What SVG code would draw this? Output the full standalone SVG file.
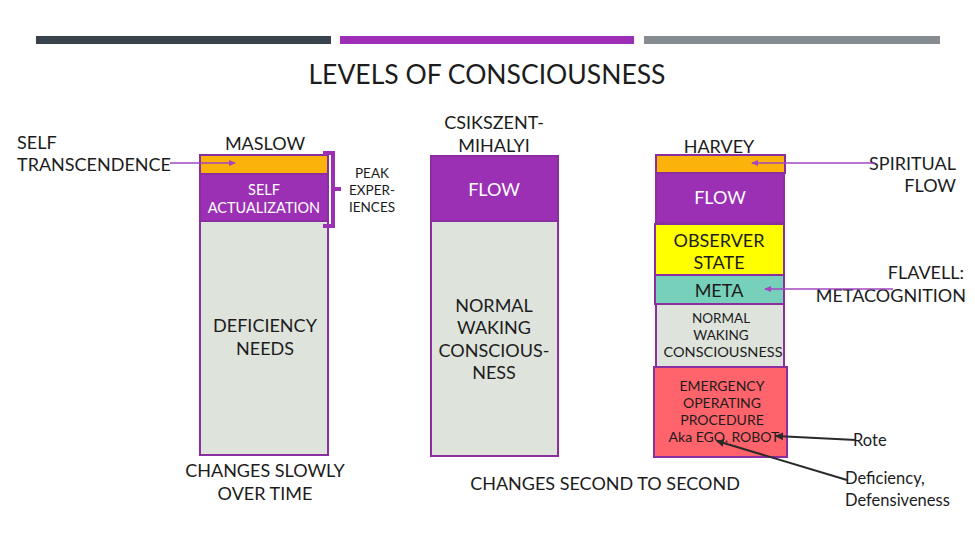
<svg xmlns="http://www.w3.org/2000/svg" width="975" height="549" viewBox="0 0 975 549">
<defs>
<style>
text{font-family:Lato,"Open Sans","Liberation Sans",sans-serif;fill:#1c1c1c;}
.c{text-anchor:middle;}
.r{text-anchor:end;}
.w{fill:#ffffff;}
.lab{font-size:18px;}
.box{stroke:#8a2ea0;stroke-width:2;}
.pl{stroke:#a246bf;stroke-width:1.5;fill:none;}
.bl{stroke:#2a2a2a;stroke-width:2;fill:none;}
</style>
<marker id="ap" markerWidth="8" markerHeight="8" refX="6" refY="4" orient="auto" markerUnits="userSpaceOnUse"><path d="M0,1 L7,4 L0,7 Z" fill="#a246bf"/></marker>
<marker id="ab" markerWidth="10" markerHeight="10" refX="7" refY="5" orient="auto" markerUnits="userSpaceOnUse"><path d="M0,1 L8,5 L0,9 Z" fill="#2a2a2a"/></marker>
</defs>
<rect width="975" height="549" fill="#ffffff"/>
<g id="header">
<rect x="36" y="36" width="295" height="8" fill="#37424a"/>
<rect x="340" y="36" width="294" height="8" fill="#9c2fb5"/>
<rect x="644" y="36" width="296" height="8" fill="#848b91"/>
<text x="487" y="84" class="c" font-size="26" textLength="357" lengthAdjust="spacingAndGlyphs">LEVELS OF CONSCIOUSNESS</text>
</g>
<g id="maslow">
<text x="265" y="150" class="c lab">MASLOW</text>
<rect x="200" y="155" width="128" height="19" fill="#fbb20a" class="box"/>
<rect x="200" y="174" width="128" height="47" fill="#9b30b5" class="box"/>
<text x="264" y="195" class="c w" font-size="14.5">SELF</text>
<text x="264" y="213" class="c w" font-size="14.5">ACTUALIZATION</text>
<rect x="200" y="221" width="128" height="234" fill="#dee3dc" class="box"/>
<text x="265" y="332" class="c lab">DEFICIENCY</text>
<text x="265" y="355" class="c lab">NEEDS</text>
<text x="265" y="477" class="c lab">CHANGES SLOWLY</text>
<text x="265" y="500" class="c lab">OVER TIME</text>
</g>
<g id="self-transcendence">
<text x="17" y="149" class="lab">SELF</text>
<text x="17" y="171" class="lab">TRANSCENDENCE</text>
</g>
<g id="peak">
<path d="M323,153 H333 V226 H323 M333,189 H341" fill="none" stroke="#9b30b5" stroke-width="4"/>
<text x="372" y="178" class="c" font-size="13.5">PEAK</text>
<text x="372" y="195" class="c" font-size="13.5">EXPER-</text>
<text x="372" y="212" class="c" font-size="13.5">IENCES</text>
</g>
<g id="csikszentmihalyi">
<text x="494" y="129" class="c lab">CSIKSZENT-</text>
<text x="494" y="152" class="c lab">MIHALYI</text>
<rect x="431" y="156" width="127" height="65" fill="#9b30b5" class="box"/>
<text x="494" y="196" class="c w lab">FLOW</text>
<rect x="431" y="221" width="127" height="235" fill="#dee3dc" class="box"/>
<text x="494" y="312" class="c lab">NORMAL</text>
<text x="494" y="334" class="c lab">WAKING</text>
<text x="494" y="357" class="c lab">CONSCIOUS-</text>
<text x="494" y="379" class="c lab">NESS</text>
<text x="605" y="490" class="c lab">CHANGES SECOND TO SECOND</text>
</g>
<g id="harvey">
<text x="719" y="153" class="c lab">HARVEY</text>
<rect x="656" y="155" width="129" height="18" fill="#fbb20a" class="box"/>
<rect x="656" y="173" width="128" height="50" fill="#9b30b5" class="box"/>
<text x="720" y="204" class="c w lab">FLOW</text>
<rect x="655" y="224" width="129" height="51" fill="#ffff00" class="box"/>
<text x="719" y="247" class="c lab">OBSERVER</text>
<text x="719" y="269" class="c lab">STATE</text>
<rect x="655" y="275" width="129" height="29" fill="#77d0b9" class="box"/>
<text x="719" y="297" class="c lab">META</text>
<rect x="656" y="304" width="128" height="63" fill="#dee3dc" class="box"/>
<text x="721" y="323" class="c" font-size="13.5">NORMAL</text>
<text x="721" y="340" class="c" font-size="13.5">WAKING</text>
<text x="723" y="357" class="c" font-size="13.5" textLength="119" lengthAdjust="spacingAndGlyphs">CONSCIOUSNESS</text>
<rect x="654" y="367" width="133" height="90" fill="#ff636b" class="box"/>
<text x="722" y="391" class="c" font-size="14">EMERGENCY</text>
<text x="722" y="408" class="c" font-size="14">OPERATING</text>
<text x="722" y="425" class="c" font-size="14">PROCEDURE</text>
<text x="724" y="442" class="c" font-size="14">Aka EGO, ROBOT</text>
</g>
<g id="labels-right">
<text x="956" y="170" class="r lab">SPIRITUAL</text>
<text x="956" y="192" class="r lab">FLOW</text>
<text x="964" y="279" class="r lab">FLAVELL:</text>
<text x="966" y="302" class="r lab">METACOGNITION</text>
<text x="853" y="446" font-size="16.5">Rote</text>
<text x="845" y="484" font-size="16.5">Deficiency,</text>
<text x="845" y="506" font-size="16.5">Defensiveness</text>
</g>
<g id="connectors">
<line x1="170" y1="163" x2="235" y2="163" class="pl" marker-end="url(#ap)"/>
<line x1="875" y1="163" x2="752" y2="163" class="pl" marker-end="url(#ap)"/>
<line x1="893" y1="289" x2="765" y2="289" class="pl" marker-end="url(#ap)"/>
<line x1="856" y1="440" x2="776" y2="436" class="bl" marker-end="url(#ab)"/>
<line x1="847" y1="480" x2="717" y2="441" class="bl" marker-end="url(#ab)"/>
</g>
</svg>
